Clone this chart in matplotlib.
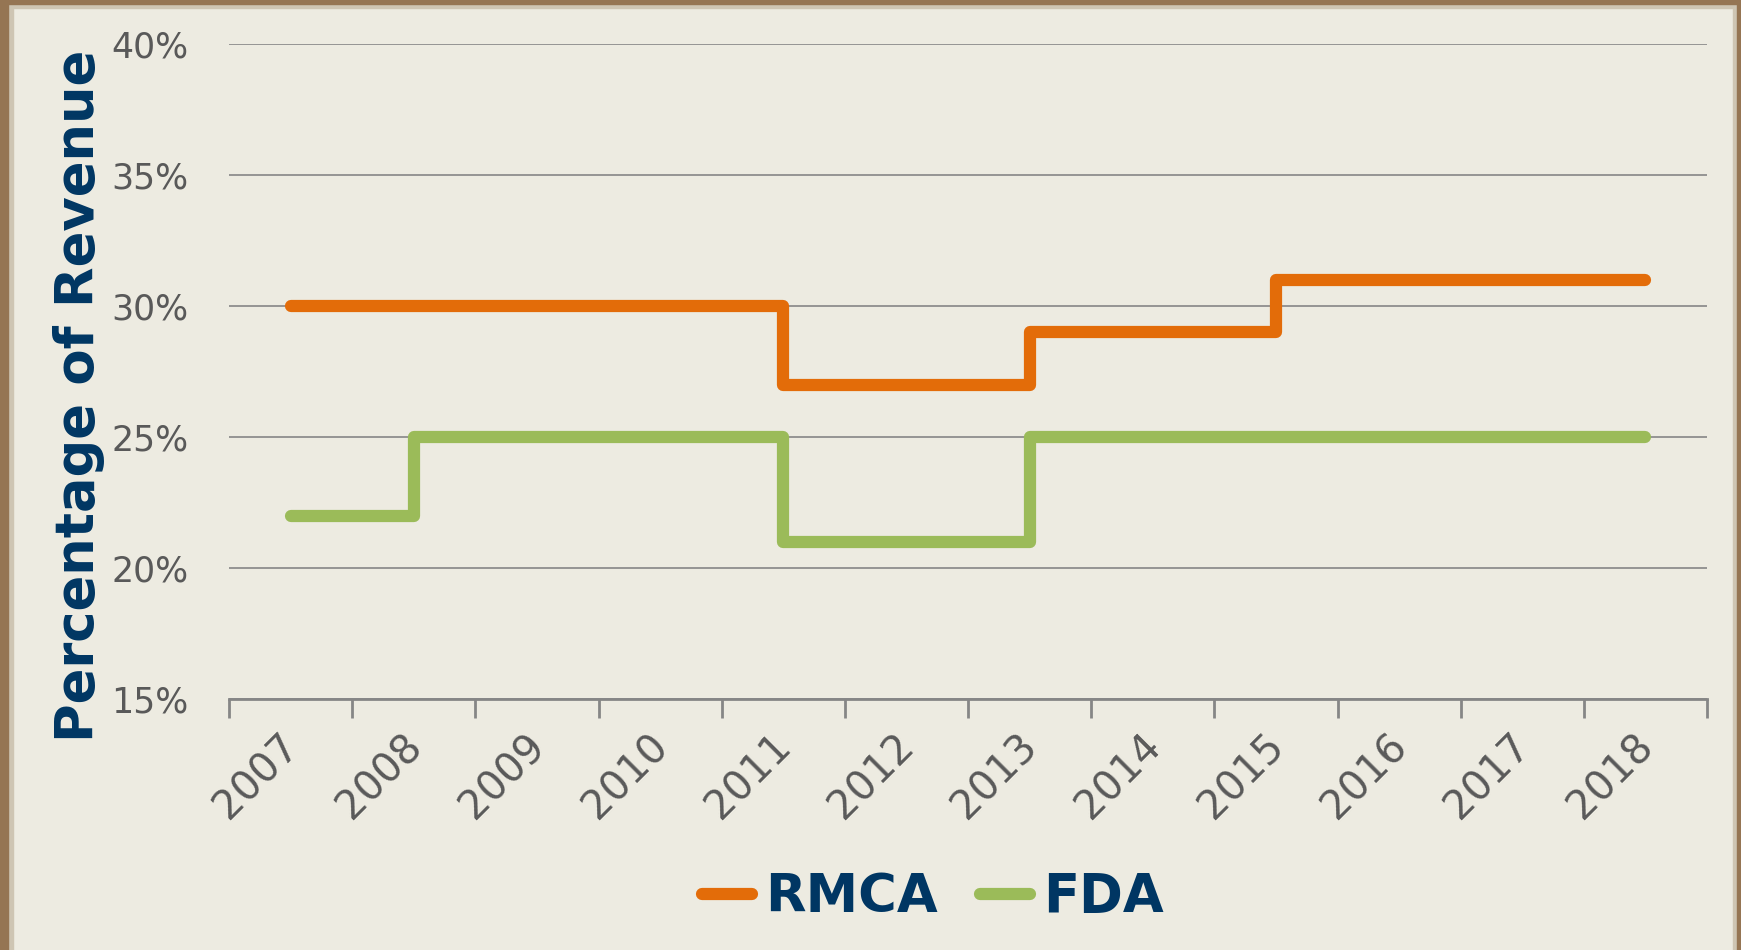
import matplotlib.pyplot as plt
from matplotlib.patches import Rectangle
from matplotlib.transforms import ScaledTranslation

years = ['2007', '2008', '2009', '2010', '2011', '2012',
         '2013', '2014', '2015', '2016', '2017', '2018']
rmca = [30, 30, 30, 30, 27, 27, 29, 29, 31, 31, 31, 31]
fda = [22, 25, 25, 25, 21, 21, 25, 25, 25, 25, 25, 25]

bg = '#EDEBE1'
navy = '#003663'
grey_txt = '#595959'
grid_col = '#868686'

fig = plt.figure(figsize=(17.41, 9.5), dpi=100, facecolor=bg)

# frame around the slide
W, H = 1741, 950
def frac_rect(x, y, w, h, color):
    fig.patches.append(Rectangle((x / W, 1 - (y + h) / H), w / W, h / H,
                                 transform=fig.transFigure, color=color, zorder=0))
frac_rect(0, 0, W, 8, '#CEC5B3')
frac_rect(0, 0, 13, H, '#CEC5B3')
frac_rect(W - 8, 0, 8, H, '#CEC5B3')
frac_rect(0, 0, W, 4, '#957553')
frac_rect(0, 0, 8, H, '#957553')
frac_rect(W - 4, 0, 4, H, '#957553')

ax = fig.add_axes([229 / W, 1 - 699 / H, (1707 - 229) / W, (699 - 44) / H])
ax.set_facecolor(bg)

x = list(range(len(years)))
ax.step(x, rmca, where='post', color='#E36C09', lw=8.8,
        solid_capstyle='round', solid_joinstyle='round', label='RMCA', zorder=3)
ax.step(x, fda, where='post', color='#9BBB59', lw=8.8,
        solid_capstyle='round', solid_joinstyle='round', label='FDA', zorder=3)

ax.set_xlim(-0.5, len(years) - 0.5)
ax.set_ylim(15, 40)
ax.set_yticks([15, 20, 25, 30, 35, 40])
ax.set_yticklabels([f'{v}%' for v in [15, 20, 25, 30, 35, 40]])
ax.yaxis.grid(True, color=grid_col, lw=1.2)
ax.set_axisbelow(True)
ax.tick_params(axis='y', length=0, pad=29, labelsize=25, labelcolor=grey_txt)

ax.set_xticks([i - 0.5 for i in range(len(years) + 1)])
ax.set_xticklabels([])
ax.set_xticks(x, minor=True)
ax.set_xticklabels(years, minor=True, rotation=45, ha='right', va='top',
                   rotation_mode='anchor', fontsize=29, color=grey_txt)
ax.tick_params(axis='x', which='major', length=14, width=2, color=grid_col)
ax.tick_params(axis='x', which='minor', length=0, pad=20)
off = ScaledTranslation(-12 / 100, 0, fig.dpi_scale_trans)
for lab in ax.get_xticklabels(minor=True):
    lab.set_transform(lab.get_transform() + off)

for s in ['top', 'right', 'left']:
    ax.spines[s].set_visible(False)
ax.spines['bottom'].set_color(grid_col)
ax.spines['bottom'].set_linewidth(2)

fig.text(79 / W, 1 - 396 / H, 'Percentage of Revenue', rotation=90,
         ha='center', va='center', fontsize=38, fontweight='bold', color=navy)

leg = fig.legend(loc='center', bbox_to_anchor=(933 / W, 1 - 897 / H), ncol=2,
                 frameon=False, handlelength=0.95, handletextpad=0.25,
                 columnspacing=0.8, prop={'size': 38, 'weight': 'bold'})
for t in leg.get_texts():
    t.set_color(navy)

fig.savefig('out.png', dpi=100, facecolor=bg)
